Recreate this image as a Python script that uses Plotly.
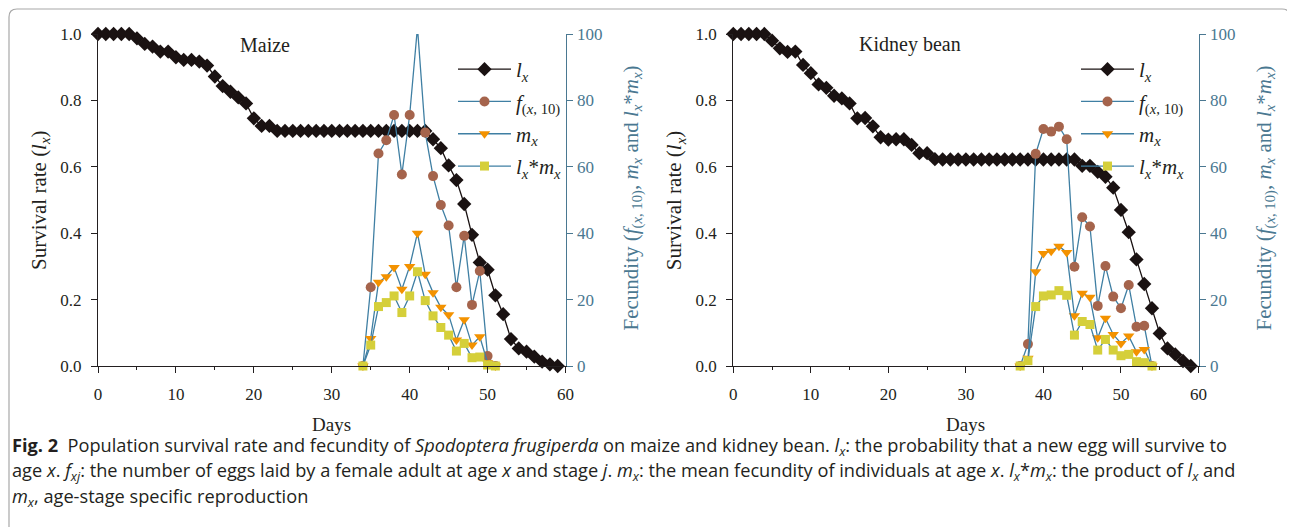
import plotly.graph_objects as go

# ---------------- data ----------------
days = list(range(0, 60))

maize_lx = [1.0, 1.0, 1.0, 1.0, 1.0, 0.987, 0.970, 0.962, 0.947, 0.947,
            0.930, 0.922, 0.922, 0.917, 0.905, 0.872, 0.843, 0.826, 0.809, 0.791,
            0.746, 0.723, 0.723, 0.708, 0.708, 0.708, 0.708, 0.708, 0.708, 0.708,
            0.708, 0.708, 0.708, 0.708, 0.708, 0.708, 0.708, 0.708, 0.708, 0.708,
            0.708, 0.708, 0.708, 0.683, 0.656, 0.604, 0.560, 0.488, 0.395, 0.312,
            0.290, 0.213, 0.156, 0.081, 0.053, 0.043, 0.028, 0.013, 0.005, 0.0]

maize_rep_days = list(range(34, 52))
maize_f = [0, 23.7, 64.0, 68.0, 75.6, 57.7, 75.6, 102.0, 70.3, 57.2,
           48.5, 42.3, 23.7, 39.2, 18.4, 28.6, 3.0, 0]
maize_mx = [0, 8.3, 25.2, 26.9, 29.7, 23.1, 30.0, 40.0, 27.6, 22.1,
            17.7, 15.4, 7.8, 13.9, 6.3, 8.8, 1.0, 0]
maize_lxmx = [0, 6.3, 17.9, 19.1, 21.1, 16.1, 21.1, 28.4, 19.7, 15.1,
              11.6, 9.3, 4.5, 6.8, 2.5, 2.7, 0.3, 0]

bean_lx = [1.0, 1.0, 1.0, 1.0, 1.0, 0.980, 0.957, 0.946, 0.947, 0.907,
           0.882, 0.848, 0.838, 0.814, 0.806, 0.791, 0.746, 0.747, 0.722, 0.689,
           0.682, 0.683, 0.683, 0.666, 0.641, 0.641, 0.623, 0.622, 0.622, 0.622,
           0.622, 0.622, 0.622, 0.622, 0.622, 0.622, 0.622, 0.622, 0.622, 0.622,
           0.622, 0.622, 0.622, 0.622, 0.622, 0.603, 0.603, 0.585, 0.570, 0.537,
           0.470, 0.403, 0.321, 0.247, 0.174, 0.098, 0.053, 0.035, 0.015, 0.0]

bean_rep_days = list(range(37, 55))
bean_f = [0, 6.6, 63.9, 71.4, 70.6, 72.1, 68.3, 29.9, 44.8, 42.0,
          18.1, 30.1, 20.9, 17.4, 24.4, 11.8, 12.1, 0]
bean_mx = [0, 2.3, 28.4, 33.9, 34.6, 36.1, 34.2, 15.1, 21.9, 20.7,
           8.5, 14.4, 9.5, 6.8, 9.0, 4.3, 5.0, 0]
bean_lxmx = [0, 1.6, 17.9, 21.1, 21.4, 22.7, 21.3, 9.3, 13.4, 12.5,
             4.8, 8.0, 4.8, 3.1, 3.5, 1.3, 1.0, 0]

panel_names = ["Maize", "Kidney bean"]
x_ticks = [0, 10, 20, 30, 40, 50, 60]
lx_ticks = [0.0, 0.2, 0.4, 0.6, 0.8, 1.0]
fec_ticks = [0, 20, 40, 60, 80, 100]

# ---------------- styling ----------------
W, H = 1295, 527
OFF = 8  # page body margin of the html page
SERIF = "Liberation Serif"
SANS = "Open Sans"
STEEL = "#3f7fa3"
STEEL_TXT = "#4a7891"
BLACK = "#1a1212"
INK = "#231f20"
BROWN = "#a5644c"
ORANGE = "#f39200"
YELLOW = "#d5cf3a"


def px(x):
    return (x - OFF) / W


def py(y):
    return 1 - (y - OFF) / H


TOP, BOT = 34, 366
panels = [(98, 565.5), (733.3, 1198.5)]

LX_NAME = "<i>l</i><sub><i>x</i></sub>"
F_NAME = "<i>f</i><sub>(<i>x</i>, 10)</sub>"
MX_NAME = "<i>m</i><sub><i>x</i></sub>"
LXMX_NAME = "<i>l</i><sub><i>x</i></sub>*<i>m</i><sub><i>x</i></sub>"

fig = go.Figure()

datasets = [
    (maize_lx, maize_rep_days, maize_f, maize_mx, maize_lxmx),
    (bean_lx, bean_rep_days, bean_f, bean_mx, bean_lxmx),
]

for i, (lx, rd, f, mx, lxmx) in enumerate(datasets):
    xa = "x" if i == 0 else "x2"
    ya_l = "y" if i == 0 else "y3"
    ya_r = "y2" if i == 0 else "y4"
    leg = "legend" if i == 0 else "legend2"
    fig.add_trace(go.Scatter(
        x=days, y=lx, xaxis=xa, yaxis=ya_l, name=LX_NAME, legend=leg,
        legendgroup=f"lx{i}", mode="lines+markers", cliponaxis=False,
        line=dict(color=BLACK, width=1.3),
        marker=dict(symbol="diamond", size=11, color=BLACK)))
    fig.add_trace(go.Scatter(
        x=rd, y=f, xaxis=xa, yaxis=ya_r, name=F_NAME, legend=leg,
        legendgroup=f"f{i}", mode="lines+markers", cliponaxis=True,
        line=dict(color=STEEL, width=1.3),
        marker=dict(symbol="circle", size=10, color=BROWN)))
    fig.add_trace(go.Scatter(
        x=rd, y=mx, xaxis=xa, yaxis=ya_r, name=MX_NAME, legend=leg,
        legendgroup=f"m{i}", mode="lines+markers", cliponaxis=False,
        line=dict(color=STEEL, width=1.3),
        marker=dict(symbol="triangle-down", size=10, color=ORANGE)))
    fig.add_trace(go.Scatter(
        x=rd, y=lxmx, xaxis=xa, yaxis=ya_r, name=LXMX_NAME, legend=leg,
        legendgroup=f"lm{i}", mode="lines+markers", cliponaxis=False,
        line=dict(color=STEEL, width=1.3),
        marker=dict(symbol="square", size=9, color=YELLOW)))

tickfont = dict(family=SERIF, size=17, color=INK)
stickfont = dict(family=SERIF, size=17, color=STEEL_TXT)

for i, (x0, x1) in enumerate(panels):
    xk = "xaxis" if i == 0 else "xaxis2"
    ylk = "yaxis" if i == 0 else "yaxis3"
    yrk = "yaxis2" if i == 0 else "yaxis4"
    xa = "x" if i == 0 else "x2"
    ya_l = "y" if i == 0 else "y3"
    fig.layout[xk] = dict(
        domain=[px(x0), px(x1)], range=[0, 60], anchor=ya_l, automargin=False,
        tickvals=x_ticks, ticks="outside", ticklen=6, tickwidth=1.2,
        tickcolor=INK, showline=True, linecolor=INK, linewidth=1.3,
        showgrid=False, zeroline=False, tickfont=tickfont, ticklabelstandoff=6,
        minor=dict(dtick=5, ticks="outside", ticklen=3, tickcolor=INK,
                   showgrid=False))
    fig.layout[ylk] = dict(
        domain=[py(BOT), py(TOP)], range=[0, 1], anchor=xa, automargin=False,
        tickvals=lx_ticks, tickformat=".1f", ticks="outside", ticklen=6,
        tickwidth=1.2, tickcolor=INK, showline=True, linecolor=INK,
        linewidth=1.3, showgrid=False, zeroline=False, tickfont=tickfont,
        ticklabelstandoff=6)
    fig.layout[yrk] = dict(
        range=[0, 100], overlaying=ya_l, side="right", anchor=xa, automargin=False,
        tickvals=fec_ticks, ticks="outside", ticklen=6, tickwidth=1.2,
        tickcolor=STEEL_TXT, showline=True, linecolor=STEEL_TXT, linewidth=1.3,
        showgrid=False, zeroline=False, tickfont=stickfont, ticklabelstandoff=1)

# legends
for key, lx0 in (("legend", 453), ("legend2", 1076)):
    fig.layout[key] = dict(
        x=px(lx0), y=py(49), xanchor="left", yanchor="top",
        bgcolor="rgba(0,0,0,0)", font=dict(family=SERIF, size=21, color=INK),
        itemwidth=53, traceorder="grouped", tracegroupgap=2)

annotations = []


def ann(x, y, text, font, **kw):
    d = dict(x=px(x), y=py(y), text=text, showarrow=False, xref="paper", yref="paper",
             xanchor="center", yanchor="middle", font=font)
    d.update(kw)
    annotations.append(d)


# panel labels
ann(265, 45, panel_names[0], dict(family=SERIF, size=20, color=INK))
ann(910, 45, panel_names[1], dict(family=SERIF, size=20, color=INK))
# axis titles
for i, (x0, x1) in enumerate(panels):
    ann((x0 + x1) / 2, 424, "Days", dict(family=SERIF, size=19, color=INK))
    ann(x0 - 58, 200, "Survival rate (" + LX_NAME + ")",
        dict(family=SERIF, size=21, color=INK), textangle=-90)
    ann(x1 + 66, 198,
        "Fecundity (" + F_NAME + ", " + MX_NAME + " and " + LXMX_NAME + ")",
        dict(family=SERIF, size=21, color=STEEL_TXT), textangle=-90)

# caption
cap = [
    "<b>Fig. 2</b>  Population survival rate and fecundity of <i>Spodoptera frugiperda</i> "
    "on maize and kidney bean. <i>l</i><sub><i>x</i></sub>: the probability that a new egg will survive to",
    "age <i>x</i>. <i>f</i><sub><i>xj</i></sub>: the number of eggs laid by a female adult at age <i>x</i> "
    "and stage <i>j</i>. <i>m</i><sub><i>x</i></sub>: the mean fecundity of individuals at age <i>x</i>. "
    "<i>l</i><sub><i>x</i></sub>*<i>m</i><sub><i>x</i></sub>: the product of <i>l</i><sub><i>x</i></sub> and",
    "<i>m</i><sub><i>x</i></sub>, age-stage specific reproduction",
]
for text, yy in zip(cap, (446, 471.5, 497)):
    ann(10, yy, text, dict(family=SANS, size=18.2, color=INK), xanchor="left")

fig.update_layout(
    template="none",
    width=W, height=H, margin=dict(l=0, r=0, t=0, b=0, pad=0, autoexpand=False),
    paper_bgcolor="white", plot_bgcolor="rgba(0,0,0,0)",
    annotations=annotations, showlegend=True,
    shapes=[dict(type="path", xref="paper", yref="paper",
                 path=f"M {px(9)},{py(540)} L {px(9)},{py(17)} Q {px(9)},{py(9)} {px(17)},{py(9)} "
                      f"L {px(1282)},{py(9)} Q {px(1290)},{py(9)} {px(1290)},{py(17)} L {px(1290)},{py(410)}",
                 line=dict(color="#a8a8a8", width=1.2))],
)

fig.write_html("out.html")
